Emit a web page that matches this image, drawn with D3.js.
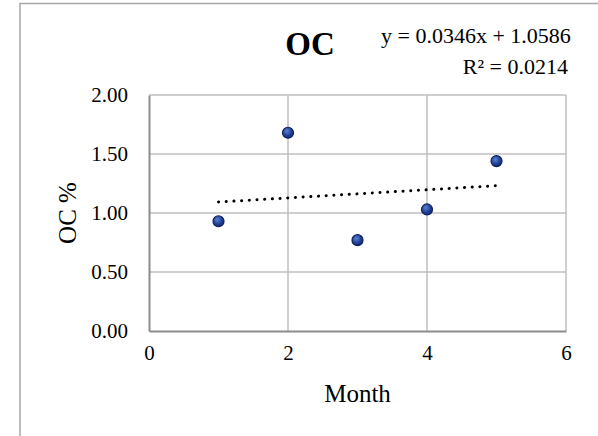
<!DOCTYPE html>
<html>
<head>
<meta charset="utf-8">
<script src="https://cdn.jsdelivr.net/npm/d3@7"></script>
<style>
html,body{margin:0;padding:0;background:#fff;}
svg{display:block;}
text{font-family:"Liberation Serif","Times New Roman",serif;fill:#000;}
</style>
</head>
<body>
<svg id="chart" width="598" height="436"></svg>
<script>
const months = [1, 2, 3, 4, 5];
const ocValues = [0.93, 1.68, 0.77, 1.03, 1.44];
const xTicks = [0, 2, 4, 6];
const yTicks = [0, 0.5, 1.0, 1.5, 2.0];
const trendSlope = 0.0346;
const trendIntercept = 1.0586;
const trendR2 = 0.0214;
const chartTitle = "OC";
const xTitle = "Month";
const yTitle = "OC %";

const svg = d3.select("#chart");
const W = 598, H = 436;
const m = {left: 149, right: 32, top: 95, bottom: 105};

const x = d3.scaleLinear().domain([0, 6]).range([m.left, W - m.right]);
const y = d3.scaleLinear().domain([0, 2]).range([H - m.bottom, m.top]);

// outer frame (top and left edges visible)
svg.append("path")
  .attr("d", `M20,${H} L20,3.5 L${W},3.5`)
  .attr("fill", "none").attr("stroke", "#a6a6a6").attr("stroke-width", 1.5);

const defs = svg.append("defs");
const grad = defs.append("radialGradient").attr("id", "dotGrad")
  .attr("cx", "40%").attr("cy", "35%").attr("r", "65%");
grad.append("stop").attr("offset", "0%").attr("stop-color", "#5a82d0");
grad.append("stop").attr("offset", "65%").attr("stop-color", "#1f3f95");
grad.append("stop").attr("offset", "100%").attr("stop-color", "#152e72");

// gridlines
svg.append("g").selectAll("line").data(yTicks.filter(d => d > 0)).join("line")
  .attr("x1", x(0)).attr("x2", x(6))
  .attr("y1", d => y(d)).attr("y2", d => y(d))
  .attr("stroke", "#bfbfbf").attr("stroke-width", 1.5);
svg.append("g").selectAll("line").data(xTicks.filter(d => d > 0)).join("line")
  .attr("x1", d => x(d)).attr("x2", d => x(d))
  .attr("y1", y(0)).attr("y2", y(2))
  .attr("stroke", "#bfbfbf").attr("stroke-width", 1.5);

// axes
const xAxis = svg.append("g").attr("transform", `translate(0,${y(0)})`)
  .call(d3.axisBottom(x).tickValues(xTicks).tickFormat(d3.format("d")).tickSize(0).tickPadding(14));
xAxis.select(".domain").attr("stroke", "#8c8c8c").attr("stroke-width", 2);
xAxis.selectAll("text").attr("font-size", 21).attr("font-family", "Liberation Serif");

const yAxis = svg.append("g").attr("transform", `translate(${x(0)},0)`)
  .call(d3.axisLeft(y).tickValues(yTicks).tickFormat(d3.format(".2f")).tickSize(0).tickPadding(21));
yAxis.select(".domain").attr("stroke", "#8c8c8c").attr("stroke-width", 2);
yAxis.selectAll("text").attr("font-size", 21).attr("font-family", "Liberation Serif");

// trendline
svg.append("line")
  .attr("x1", x(months[0])).attr("x2", x(months[months.length - 1]))
  .attr("y1", y(trendIntercept + trendSlope * months[0]))
  .attr("y2", y(trendIntercept + trendSlope * months[months.length - 1]))
  .attr("stroke", "#000").attr("stroke-width", 3)
  .attr("stroke-linecap", "round").attr("stroke-dasharray", "0.1 7.6");

// points
svg.append("g").selectAll("circle").data(months.map((mo, i) => [mo, ocValues[i]])).join("circle")
  .attr("cx", d => x(d[0])).attr("cy", d => y(d[1])).attr("r", 5.5)
  .attr("fill", "url(#dotGrad)").attr("stroke", "#0e2160").attr("stroke-width", 1.2);

// titles
svg.append("text").attr("x", 310).attr("y", 55).attr("text-anchor", "middle")
  .attr("font-size", 33).attr("font-weight", "bold").text(chartTitle);

svg.append("text").attr("x", 381).attr("y", 43).attr("font-size", 22)
  .text(`y = ${trendSlope}x + ${trendIntercept}`);
svg.append("text").attr("x", 568).attr("y", 74).attr("font-size", 22).attr("text-anchor", "end")
  .text(`R² = ${trendR2}`);

svg.append("text").attr("x", (x(0) + x(6)) / 2).attr("y", 402).attr("text-anchor", "middle")
  .attr("font-size", 25).text(xTitle);
svg.append("text").attr("transform", `translate(76,${(y(0) + y(2)) / 2}) rotate(-90)`)
  .attr("text-anchor", "middle").attr("font-size", 25).text(yTitle);
</script>
</body>
</html>
